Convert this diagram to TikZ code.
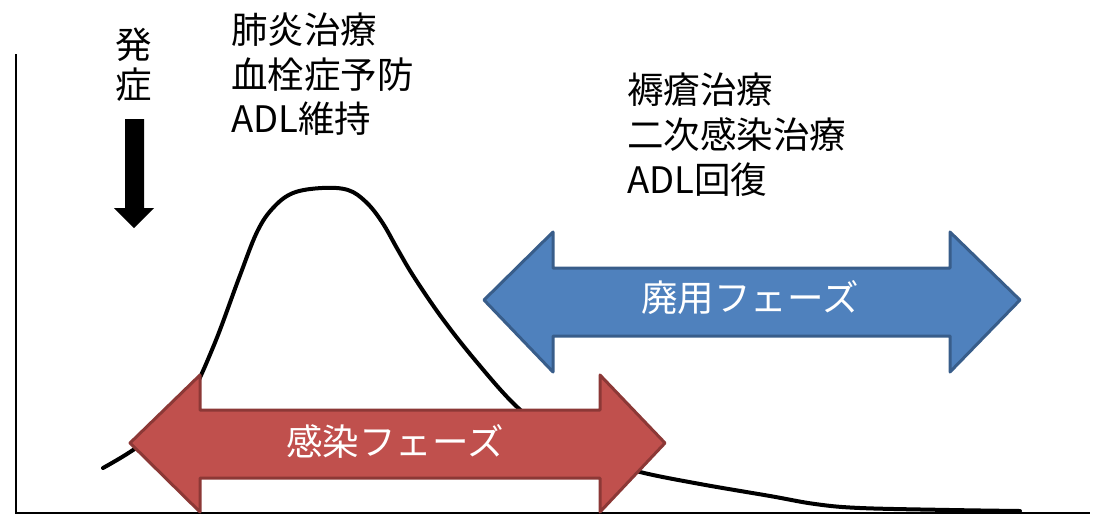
\documentclass[tikz,border=0pt]{standalone}
\usepackage{fontspec}
\setmainfont{Noto Sans CJK JP}
\definecolor{redfill}{HTML}{C0504D}
\definecolor{redline}{HTML}{8C3836}
\definecolor{bluefill}{HTML}{4F81BD}
\definecolor{blueline}{HTML}{385D8A}
\begin{document}
\begin{tikzpicture}[x=1pt,y=-1pt,
  lbl/.style={inner sep=0pt,font=\fontsize{36.5}{40}\selectfont},
  txt/.style={inner sep=0pt,anchor=base west,font=\fontsize{36.5}{40}\selectfont},
  phase/.style={line width=3pt,line join=round},
  axis/.style={line width=2pt}]
\useasboundingbox (0,0) rectangle (1095,515);
% axes
\coordinate (o) at (16,513);
\coordinate (ytop) at (16,54);
\coordinate (xend) at (1090,513);
\draw[axis] (ytop) -- (o) -- (xend);
% curve
\draw[line width=4pt,line cap=round] plot[smooth,tension=0.6] coordinates {
 (103,468) (130,452) (160,430) (189,398) (214,345) (239,278) (257,232) (273,208) (293,193) (322,188) (348,190) (366,202) (382,222) (398,250) (414,277) (442,318) (475,360) (515,405) (550,432) (595,458) (640,472) (700,484) (770,496) (815,504) (860,508) (950,510) (1020,511)};
% blue arrow
\fill[bluefill,draw=blueline,phase] (484,300) -- (553,232) -- (553,268) -- (950,268) -- (950,232) -- (1020,300) -- (950,372) -- (950,336) -- (553,336) -- (553,372) -- cycle;
\node[lbl,text=white] (bl) at (750,298) {廃用フェーズ};
% red arrow
\fill[redfill,draw=redline,phase] (130,443) -- (200,375) -- (200,410) -- (600,410) -- (600,375) -- (665,443) -- (600,512) -- (600,478) -- (200,478) -- (200,512) -- cycle;
\node[lbl,text=white] (rl) at (395,441) {感染フェーズ};
% onset arrow
\fill (125,119) -- (144,119) -- (144,208) -- (154,208) -- (134,228) -- (114,208) -- (125,208) -- cycle;
\node[lbl] (h1) at (134,45) {発};
\node[lbl] (h2) at (134,85) {症};
% text blocks
\node[txt] (a1) at (231,43) {肺炎治療};
\node[txt] (a2) at (231,88) {血栓症予防};
\node[txt] (a3) at (231,132) {ADL維持};
\node[txt] (b1) at (627,103) {褥瘡治療};
\node[txt] (b2) at (627,148) {二次感染治療};
\node[txt] (b3) at (627,193) {ADL回復};
\end{tikzpicture}
\end{document}
